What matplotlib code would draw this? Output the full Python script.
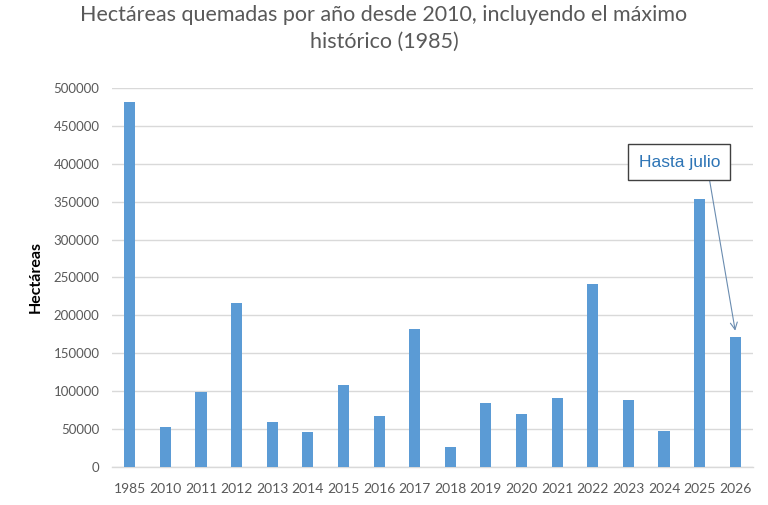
import matplotlib
matplotlib.use("Agg")
import matplotlib.pyplot as plt

# Datos
anios = ["1985", "2010", "2011", "2012", "2013", "2014", "2015", "2016", "2017",
         "2018", "2019", "2020", "2021", "2022", "2023", "2024", "2025", "2026"]
hectareas = [482000, 52800, 98700, 216000, 59400, 46200, 107500, 67400, 182000,
             25600, 84100, 69200, 90700, 241000, 88500, 47100, 353200, 171700]
yticks = [0, 50000, 100000, 150000, 200000, 250000, 300000, 350000, 400000, 450000, 500000]

gris = "#595959"
azul = "#5B9BD5"

plt.rcParams['font.family'] = ['Lato', 'DejaVu Sans']

fig = plt.figure(figsize=(7.68, 5.05), dpi=100)
ax = fig.add_axes([0.1458, 0.0758, 0.8347, 0.7495])

x = range(len(anios))
ax.bar(x, hectareas, width=0.31, color=azul, zorder=3)

ax.set_xlim(-0.5, len(anios) - 0.5)
ax.set_ylim(0, 500000)
ax.set_yticks(yticks)
ax.set_yticklabels([str(v) for v in yticks], color=gris, fontsize=9.5)
ax.set_xticks(list(x))
ax.set_xticklabels(anios, color=gris, fontsize=10)
ax.tick_params(axis='both', length=0)
ax.tick_params(axis='y', pad=9)
ax.tick_params(axis='x', pad=12)

ax.grid(True, axis='y', color='#D9D9D9', linewidth=1, zorder=0)
for s in ['top', 'right', 'left']:
    ax.spines[s].set_visible(False)
ax.spines['bottom'].set_color('#D9D9D9')
ax.spines['bottom'].set_linewidth(1)

ax.set_ylabel('Hectáreas', fontsize=11.5, fontweight='bold', color='black', labelpad=8)

fig.suptitle('Hectáreas quemadas por año desde 2010, incluyendo el máximo\nhistórico (1985)',
             color=gris, fontsize=15.5, y=0.99, linespacing=1.45)

ax.annotate('Hasta julio', xy=(17, hectareas[17] + 8000), xytext=(15.43, 402000),
            ha='center', va='center', color='#2E75B6', fontsize=12.5,
            family=['Liberation Sans'],
            bbox=dict(boxstyle='square,pad=0.6', facecolor='white', edgecolor='#404040', linewidth=1),
            arrowprops=dict(arrowstyle='->', color='#6A8CB0', linewidth=0.8,
                            shrinkA=0, shrinkB=0, relpos=(0.85, 0)),
            zorder=5)

fig.savefig('out.png', dpi=100)
